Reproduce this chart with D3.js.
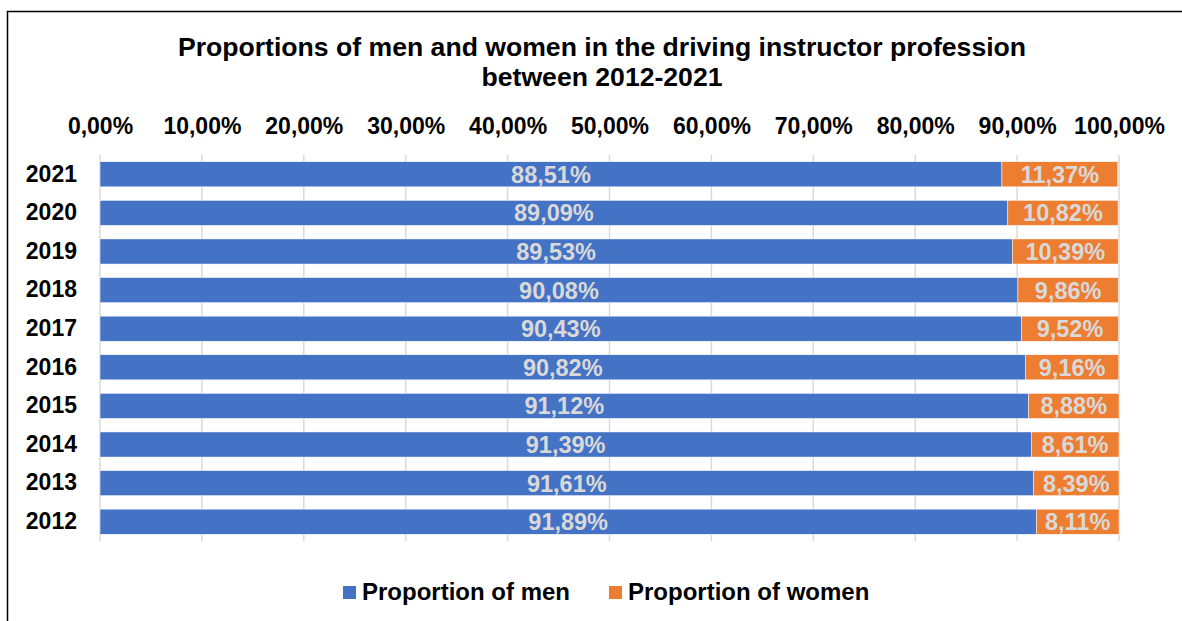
<!DOCTYPE html>
<html>
<head>
<meta charset="utf-8">
<script src="https://cdn.jsdelivr.net/npm/d3@7"></script>
<style>
  body { margin: 0; background: #fff; }
  svg { display: block; font-family: 'Liberation Sans', Arial, sans-serif; }
</style>
</head>
<body>
<div id="chart"></div>
<script>
const years = ['2021', '2020', '2019', '2018', '2017', '2016', '2015', '2014', '2013', '2012'];
const men = [88.51, 89.09, 89.53, 90.08, 90.43, 90.82, 91.12, 91.39, 91.61, 91.89];
const women = [11.37, 10.82, 10.39, 9.86, 9.52, 9.16, 8.88, 8.61, 8.39, 8.11];
const ticks = [0, 10, 20, 30, 40, 50, 60, 70, 80, 90, 100];
const titleLines = ['Proportions of men and women in the driving instructor profession', 'between 2012-2021'];
const seriesNames = ['Proportion of men', 'Proportion of women'];
const colors = ['#4472c4', '#ed7d31'];

const width = 1182;
const height = 621;
const plot = { left: 100, right: 1119, top: 155, bottom: 541 };

const fmt = v => v.toFixed(2).replace('.', ',') + '%';

const svg = d3.select('#chart')
    .append('svg')
    .attr('width', width)
    .attr('height', height);

// frame (only top and left edges visible)
svg.append('path')
    .attr('d', `M7.5,${height} V11.5 H${width}`)
    .attr('fill', 'none')
    .attr('stroke', '#000')
    .attr('stroke-width', 1.5);

const x = d3.scaleLinear()
    .domain([0, 100])
    .range([plot.left, plot.right]);

const y = d3.scaleBand()
    .domain(years)
    .range([plot.top, plot.bottom])
    .paddingInner(0.35)
    .paddingOuter(0.175);

// title
svg.append('text')
    .attr('x', 602)
    .attr('y', 56)
    .attr('text-anchor', 'middle')
    .style('font-size', '26.6px')
    .style('font-weight', 'bold')
    .selectAll('tspan')
    .data(titleLines)
    .join('tspan')
    .attr('x', 602)
    .attr('dy', (d, i) => i === 0 ? 0 : 30)
    .text(d => d);

// gridlines
svg.append('g')
    .selectAll('line')
    .data(ticks)
    .join('line')
    .attr('x1', d => x(d))
    .attr('x2', d => x(d))
    .attr('y1', plot.top)
    .attr('y2', plot.bottom)
    .attr('stroke', '#d9d9d9')
    .attr('stroke-width', 1.5);

// top axis labels
const xAxis = svg.append('g')
    .attr('transform', `translate(0,${plot.top})`)
    .call(d3.axisTop(x).tickValues(ticks).tickFormat(fmt).tickSize(0).tickPadding(21));
xAxis.select('.domain').remove();
xAxis.selectAll('text')
    .style('font-size', '23px')
    .style('font-weight', 'bold')
    .style('font-family', "'Liberation Sans', Arial, sans-serif")
    .attr('fill', '#000');

// left axis labels
const yAxis = svg.append('g')
    .attr('transform', `translate(${plot.left},0)`)
    .call(d3.axisLeft(y).tickSize(0).tickPadding(23));
yAxis.select('.domain').remove();
yAxis.selectAll('text')
    .style('font-size', '23px')
    .style('font-weight', 'bold')
    .style('font-family', "'Liberation Sans', Arial, sans-serif")
    .attr('fill', '#000');

const rows = years.map((yr, i) => ({ year: yr, men: men[i], women: women[i] }));

// men bars
svg.append('g')
    .selectAll('rect')
    .data(rows)
    .join('rect')
    .attr('x', x(0))
    .attr('y', d => y(d.year))
    .attr('width', d => x(d.men) - x(0))
    .attr('height', y.bandwidth())
    .attr('fill', colors[0])
    .attr('stroke', '#fff')
    .attr('stroke-width', 0.5);

// women bars
svg.append('g')
    .selectAll('rect')
    .data(rows)
    .join('rect')
    .attr('x', d => x(d.men))
    .attr('y', d => y(d.year))
    .attr('width', d => x(d.men + d.women) - x(d.men))
    .attr('height', y.bandwidth())
    .attr('fill', colors[1])
    .attr('stroke', '#fff')
    .attr('stroke-width', 0.5);

// data labels
const labels = svg.append('g')
    .style('font-size', '23.5px')
    .style('font-weight', 'bold')
    .attr('fill', '#d9d9d9')
    .attr('text-anchor', 'middle');

labels.selectAll('.lm')
    .data(rows)
    .join('text')
    .attr('class', 'lm')
    .attr('x', d => x(d.men / 2))
    .attr('y', d => y(d.year) + y.bandwidth() / 2)
    .attr('dy', '0.36em')
    .text(d => fmt(d.men));

labels.selectAll('.lw')
    .data(rows)
    .join('text')
    .attr('class', 'lw')
    .attr('x', d => x(d.men + d.women / 2))
    .attr('y', d => y(d.year) + y.bandwidth() / 2)
    .attr('dy', '0.36em')
    .text(d => fmt(d.women));

// legend
const legendPos = [343, 609];
const legend = svg.append('g')
    .selectAll('g')
    .data(seriesNames)
    .join('g')
    .attr('transform', (d, i) => `translate(${legendPos[i]},586)`);

legend.append('rect')
    .attr('width', 13)
    .attr('height', 13)
    .attr('fill', (d, i) => colors[i]);

legend.append('text')
    .attr('x', 19)
    .attr('y', 14)
    .style('font-size', '24px')
    .style('font-weight', 'bold')
    .text(d => d);
</script>
</body>
</html>
